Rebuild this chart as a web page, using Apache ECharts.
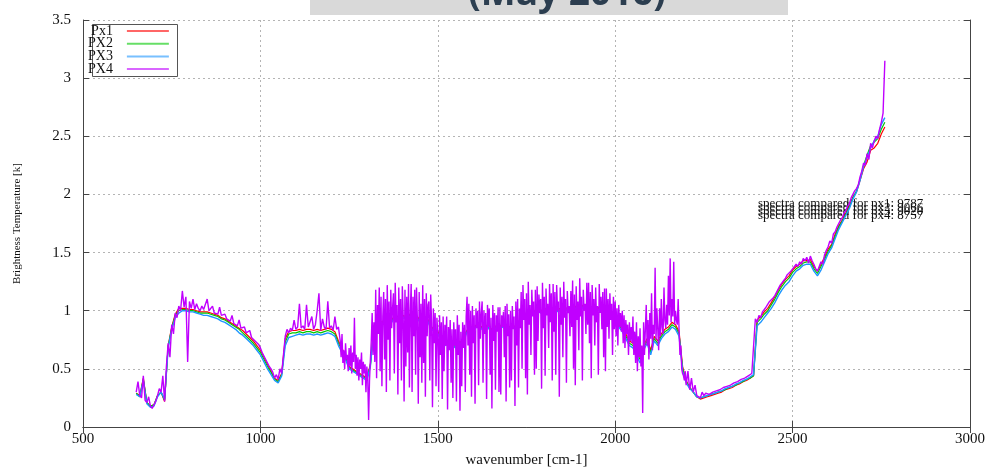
<!DOCTYPE html>
<html><head><meta charset="utf-8">
<script src="https://cdn.jsdelivr.net/npm/echarts@6/dist/echarts.min.js"></script>
<style>html,body{margin:0;padding:0;background:#fff}#c{width:988px;height:473px}</style>
</head><body><div id="c"></div>
<script>
// ---------- data ----------
const seriesNames = ['Px1', 'PX2', 'PX3', 'PX4'];
const xTickValues = [500, 1000, 1500, 2000, 2500, 3000];
const yTickValues = [0, 0.5, 1, 1.5, 2, 2.5, 3, 3.5];
const xAxisName = 'wavenumber [cm-1]';
const yAxisName = 'Brightness Temperature [k]';
const titleText = '(May 2016)';
const annotationTexts = [
  'spectra compared for px1: 9787',
  'spectra compared for px2: 9066',
  'spectra compared for px3: 9020',
  'spectra compared for px4: 8757'
];

// PX4, part 1: every 5 cm-1 from 650 to 1220 cm-1
const px4LowStart = 650, px4LowStep = 5;
const px4Low = [
0.30,0.39,0.27,0.25,0.44,0.23,0.21,0.26,0.18,0.16,
0.19,0.22,0.27,0.33,0.30,0.44,0.22,0.52,0.72,0.60,
0.88,0.80,0.98,0.94,1.04,1.00,1.17,1.03,1.12,0.56,
1.08,1.02,1.10,1.01,1.06,1.02,1.00,1.04,1.01,1.00,
1.10,1.00,0.99,1.04,0.98,0.99,0.97,1.03,0.96,0.95,
0.97,0.93,0.94,0.91,0.96,0.89,0.90,0.87,0.92,0.85,
0.84,0.86,0.81,0.80,0.83,0.77,0.76,0.74,0.73,0.71,
0.68,0.64,0.61,0.58,0.55,0.52,0.50,0.47,0.42,0.45,
0.41,0.50,0.46,0.62,0.78,0.84,0.81,0.85,0.83,0.92,
0.84,0.86,1.06,0.85,0.87,0.84,1.05,0.86,0.85,0.95,
0.84,0.88,1.00,1.15,0.83,0.93,0.86,0.84,1.08,0.85,
0.87,0.83,0.95,0.84,0.86
];
// PX4, part 2 (dense absorption region): every 2.5 cm-1 from 1225 to 2197.5 cm-1
const px4MidStart = 1225, px4MidStep = 2.5;
const px4Mid = [
0.74,0.60,0.80,0.55,0.66,0.50,0.72,0.58,0.62,0.48,0.68,0.52,0.70,0.46,0.64,0.56,0.94,0.50,0.62,0.44,
0.60,0.40,0.58,0.50,0.64,0.36,0.56,0.46,0.54,0.30,0.52,0.42,0.06,0.40,0.58,0.74,0.98,0.62,0.90,0.56,
1.18,0.42,1.05,0.80,1.20,0.48,1.12,0.35,0.95,1.16,0.58,1.10,0.30,1.22,0.75,1.08,0.40,1.18,0.85,1.02,
1.15,0.46,1.24,0.90,1.05,0.28,1.20,0.72,1.10,0.40,1.21,0.95,0.22,1.18,0.52,1.12,0.64,1.23,0.34,1.00,
1.23,0.30,1.12,0.78,1.18,0.45,1.20,0.92,0.20,1.16,0.60,1.06,0.38,1.22,0.55,1.10,0.26,1.15,0.78,1.05,
1.08,0.40,1.14,0.90,0.17,1.02,0.72,0.98,0.35,0.94,0.80,0.30,0.96,0.62,0.90,0.24,0.95,0.48,0.88,0.70,
0.95,0.15,0.86,0.66,0.92,0.38,0.84,0.25,0.90,0.70,0.84,0.22,0.96,0.62,0.88,0.14,0.82,0.35,0.90,0.68,
0.88,0.30,0.95,1.12,0.70,1.06,0.45,1.00,0.26,1.04,0.72,0.96,0.20,1.02,0.85,1.00,0.36,1.08,0.76,0.98,
1.08,0.38,1.00,0.80,0.98,0.24,1.05,0.86,1.02,0.45,0.94,0.16,1.05,0.74,0.98,0.32,0.96,0.82,1.03,0.30,
1.03,0.28,0.96,0.86,0.99,0.60,1.04,0.22,1.06,0.78,0.97,0.34,1.00,0.40,1.04,0.84,0.95,0.18,1.08,0.70,
1.10,0.34,1.02,0.85,1.16,0.50,1.22,0.92,1.10,0.42,1.15,0.28,1.25,0.88,1.05,0.62,1.18,0.95,1.08,0.45,
1.18,0.50,1.21,0.74,1.14,0.98,1.10,0.33,1.24,0.85,1.12,0.44,1.19,0.96,1.06,0.68,1.23,0.90,1.15,0.40,
1.23,0.82,1.16,0.45,1.22,1.00,1.08,0.26,1.20,0.88,1.12,0.60,1.25,0.94,1.10,0.38,1.17,0.98,1.04,0.78,
1.17,0.86,1.26,0.50,1.14,0.36,1.21,0.92,1.08,0.66,1.28,0.95,1.12,0.40,1.18,1.00,1.06,0.80,1.24,0.88,
1.24,0.72,1.16,0.42,1.22,0.96,1.10,0.70,1.20,0.90,1.04,0.45,1.23,0.98,1.12,0.84,1.16,0.60,1.19,0.48,
1.19,0.86,1.10,0.76,1.15,0.92,1.06,0.62,1.12,0.84,1.08,0.78,1.02,0.70,1.05,0.86,0.98,0.82,1.00,0.72,
0.96,0.68,0.92,0.80,0.88,0.62,0.90,0.74,0.86,0.72,0.95,0.62,0.82,0.55,0.90,0.48,0.78,0.60,0.85,0.52,
0.70,0.12,0.90,0.62,0.84,1.05,0.70,0.92,0.58,0.98,0.76,1.15,0.66,0.88,0.80,1.37,0.75,1.02,0.84,0.66,
1.02,0.78,1.10,0.86,0.80,1.20,0.92,0.85,1.05,0.88,1.30,0.96,1.45,0.90,1.10,0.95,1.42,0.88,1.00,0.92,
0.88,1.10,0.84,0.62,0.70,0.50,0.46,0.44,0.40,0.48
];
// PX4, part 3: every 5 cm-1 from 2200 to 2760 cm-1
const px4HighStart = 2200, px4HighStep = 5;
const px4High = [
0.36,0.48,0.32,0.42,0.30,0.36,0.27,0.26,0.25,0.30,
0.27,0.29,0.28,0.28,0.29,0.30,0.30,0.31,0.32,0.32,
0.33,0.34,0.34,0.35,0.36,0.36,0.37,0.38,0.39,0.39,
0.40,0.41,0.42,0.42,0.43,0.44,0.45,0.46,0.47,0.93,
0.90,0.96,0.94,0.99,1.00,1.03,1.02,1.08,1.07,1.11,
1.13,1.16,1.19,1.22,1.24,1.26,1.28,1.31,1.30,1.34,
1.36,1.35,1.40,1.38,1.42,1.40,1.45,1.43,1.46,1.41,
1.47,1.43,1.40,1.36,1.34,1.38,1.42,1.40,1.48,1.52,
1.55,1.60,1.58,1.66,1.68,1.72,1.75,1.78,1.80,1.84,
1.86,1.90,1.92,1.97,2.00,2.03,2.05,2.08,2.15,2.20,
2.27,2.25,2.35,2.30,2.44,2.40,2.46,2.50,2.48,2.56,
2.62,2.70,3.15
];

// Px1, PX2, PX3 sampled every 10 cm-1 from 650 cm-1
const pxStart = 650, pxStep = 10;
const px1 = [
0.29,0.27,0.42,0.21,0.18,0.19,0.27,0.30,0.22,0.70,
0.86,0.97,1.02,1.02,1.02,1.01,1.01,1.00,0.99,0.99,
0.99,0.98,0.97,0.96,0.94,0.93,0.91,0.89,0.87,0.85,
0.83,0.80,0.77,0.74,0.70,0.66,0.60,0.54,0.48,0.42,
0.40,0.46,0.76,0.82,0.83,0.83,0.84,0.83,0.84,0.84,
0.83,0.84,0.83,0.84,0.85,0.84,0.82,0.74,0.68,0.60,
0.52,0.50,0.48,0.46,0.44,0.42,0.54,0.87,0.92,0.90,
0.92,0.94,0.92,0.97,0.94,0.96,0.95,0.97,0.94,0.96,
0.92,0.90,0.94,0.87,0.84,0.82,0.77,0.72,0.74,0.72,
0.70,0.74,0.72,0.82,0.87,0.86,0.88,0.87,0.85,0.88,
0.84,0.87,0.86,0.88,0.87,0.86,0.88,0.86,0.92,0.97,
0.98,1.00,0.99,1.02,1.00,1.02,1.01,1.02,1.00,1.02,
1.01,1.02,1.03,1.02,1.04,1.02,1.05,1.02,1.03,1.04,
1.02,1.04,1.01,1.00,0.97,0.94,0.88,0.85,0.80,0.74,
0.72,0.66,0.60,0.70,0.76,0.66,0.78,0.74,0.80,0.84,
0.86,0.90,0.88,0.82,0.52,0.40,0.34,0.30,0.26,0.24,
0.25,0.26,0.27,0.28,0.29,0.30,0.32,0.33,0.34,0.36,
0.37,0.39,0.40,0.42,0.44,0.92,0.95,0.99,1.02,1.07,
1.12,1.18,1.23,1.27,1.30,1.35,1.38,1.40,1.43,1.43,
1.44,1.38,1.34,1.40,1.46,1.53,1.57,1.66,1.73,1.78,
1.84,1.90,1.98,2.02,2.12,2.22,2.28,2.38,2.40,2.44,
2.52,2.58
];
const px2 = [
0.29,0.26,0.41,0.21,0.18,0.19,0.27,0.30,0.23,0.69,
0.85,0.96,1.00,1.01,1.01,1.00,1.00,0.99,0.98,0.98,
0.98,0.97,0.96,0.95,0.93,0.92,0.90,0.88,0.86,0.84,
0.81,0.78,0.75,0.72,0.68,0.64,0.58,0.52,0.47,0.41,
0.39,0.45,0.73,0.80,0.81,0.81,0.82,0.81,0.82,0.82,
0.81,0.82,0.81,0.82,0.83,0.82,0.80,0.72,0.66,0.59,
0.51,0.49,0.47,0.45,0.43,0.41,0.53,0.86,0.91,0.89,
0.91,0.93,0.91,0.96,0.93,0.95,0.94,0.96,0.93,0.95,
0.91,0.89,0.93,0.86,0.83,0.81,0.76,0.71,0.73,0.71,
0.69,0.73,0.71,0.81,0.86,0.85,0.87,0.86,0.84,0.87,
0.83,0.86,0.85,0.87,0.86,0.85,0.87,0.85,0.91,0.96,
0.97,0.99,0.98,1.01,0.99,1.01,1.00,1.01,0.99,1.01,
1.00,1.01,1.02,1.01,1.03,1.01,1.04,1.01,1.02,1.03,
1.01,1.03,1.00,0.99,0.96,0.93,0.87,0.84,0.78,0.72,
0.70,0.64,0.58,0.68,0.74,0.64,0.76,0.72,0.78,0.82,
0.84,0.88,0.86,0.80,0.50,0.39,0.34,0.30,0.26,0.25,
0.26,0.27,0.28,0.29,0.30,0.31,0.32,0.34,0.35,0.36,
0.38,0.39,0.41,0.42,0.44,0.90,0.93,0.97,1.00,1.05,
1.10,1.16,1.21,1.25,1.28,1.33,1.36,1.38,1.41,1.42,
1.42,1.36,1.32,1.38,1.44,1.51,1.56,1.64,1.72,1.77,
1.83,1.89,1.97,2.03,2.13,2.25,2.34,2.42,2.45,2.48,
2.56,2.62
];
const px3 = [
0.28,0.26,0.40,0.20,0.17,0.18,0.26,0.30,0.24,0.68,
0.84,0.94,0.98,1.00,1.00,0.99,0.99,0.98,0.97,0.96,
0.96,0.95,0.94,0.93,0.91,0.90,0.88,0.86,0.84,0.81,
0.79,0.76,0.73,0.70,0.66,0.62,0.56,0.50,0.45,0.40,
0.38,0.44,0.70,0.77,0.78,0.79,0.80,0.79,0.80,0.80,
0.79,0.80,0.79,0.80,0.81,0.80,0.78,0.70,0.64,0.58,
0.50,0.48,0.46,0.44,0.42,0.40,0.52,0.85,0.90,0.88,
0.90,0.92,0.90,0.95,0.92,0.94,0.93,0.95,0.92,0.94,
0.90,0.88,0.92,0.85,0.82,0.80,0.75,0.70,0.72,0.70,
0.68,0.72,0.70,0.80,0.85,0.84,0.86,0.85,0.83,0.86,
0.82,0.85,0.84,0.86,0.85,0.84,0.86,0.84,0.90,0.95,
0.96,0.98,0.97,1.00,0.98,1.00,0.99,1.00,0.98,1.00,
0.99,1.00,1.01,1.00,1.02,1.00,1.03,1.00,1.01,1.02,
1.00,1.02,0.99,0.98,0.95,0.92,0.86,0.82,0.76,0.70,
0.68,0.62,0.55,0.66,0.72,0.62,0.74,0.70,0.76,0.80,
0.82,0.86,0.84,0.78,0.48,0.38,0.33,0.30,0.26,0.25,
0.26,0.27,0.28,0.29,0.30,0.31,0.33,0.34,0.35,0.37,
0.38,0.40,0.41,0.43,0.45,0.87,0.90,0.94,0.98,1.02,
1.07,1.13,1.18,1.22,1.25,1.30,1.34,1.36,1.39,1.40,
1.40,1.34,1.30,1.35,1.42,1.49,1.54,1.62,1.70,1.76,
1.82,1.88,1.96,2.02,2.12,2.24,2.32,2.40,2.46,2.50,
2.60,2.66
];

// ---------- styles ----------
const seriesColors = ['#ff0000', '#00c800', '#1e96ff', '#c000ff'];
const seriesWidths = [1.2, 1.2, 1.4, 1.4];
const serif = '"Liberation Serif", "DejaVu Serif", serif';

function toPairs(vals, start, step) {
  return vals.map((v, i) => [start + i * step, v]);
}
const seriesData = [
  toPairs(px1, pxStart, pxStep),
  toPairs(px2, pxStart, pxStep),
  toPairs(px3, pxStart, pxStep),
  toPairs(px4Low, px4LowStart, px4LowStep)
    .concat(toPairs(px4Mid, px4MidStart, px4MidStep))
    .concat(toPairs(px4High, px4HighStart, px4HighStep))
];

const chart = echarts.init(document.getElementById('c'), null, {renderer: 'canvas'});

const axisLineStyle = {color: '#444', width: 1};
const gridLine = {show: true, lineStyle: {color: '#b4b4b4', type: [2, 3], width: 1}};
const plainNum = v => String(v);

const option = {
  animation: false,
  backgroundColor: '#fff',
  grid: {left: 83, right: 17, top: 20, bottom: 39},
  legend: {
    data: seriesNames,
    orient: 'vertical',
    align: 'right',
    left: 88,
    top: 24,
    padding: 0,
    itemGap: -1.3,
    itemWidth: 42,
    itemHeight: 2,
    icon: 'rect',
    itemStyle: {opacity: 0.6},
    textStyle: {fontFamily: serif, fontSize: 14, color: '#111', lineHeight: 12, padding: [0, 9, 0, 0]}
  },
  xAxis: [{
    type: 'value',
    min: xTickValues[0], max: xTickValues[xTickValues.length - 1],
    interval: xTickValues[1] - xTickValues[0],
    name: xAxisName, nameLocation: 'middle', nameGap: 26,
    nameTextStyle: {fontFamily: serif, fontSize: 15, color: '#111'},
    axisLine: {show: true, lineStyle: axisLineStyle},
    axisTick: {show: true, inside: true, length: 6, lineStyle: axisLineStyle},
    axisLabel: {fontFamily: serif, fontSize: 15, color: '#111', margin: 5, formatter: plainNum},
    splitLine: gridLine
  }, {
    type: 'value', position: 'top',
    min: xTickValues[0], max: xTickValues[xTickValues.length - 1],
    interval: xTickValues[1] - xTickValues[0],
    axisLine: {show: true, lineStyle: axisLineStyle},
    axisTick: {show: true, inside: true, length: 6, lineStyle: axisLineStyle},
    axisLabel: {show: false},
    splitLine: {show: false}
  }],
  yAxis: [{
    type: 'value',
    min: yTickValues[0], max: yTickValues[yTickValues.length - 1],
    interval: yTickValues[1] - yTickValues[0],
    name: yAxisName, nameLocation: 'middle', nameGap: 60,
    nameTextStyle: {fontFamily: serif, fontSize: 11, color: '#111'},
    axisLine: {show: true, lineStyle: axisLineStyle},
    axisTick: {show: true, inside: true, length: 6, lineStyle: axisLineStyle},
    axisLabel: {fontFamily: serif, fontSize: 15, color: '#111', margin: 12, formatter: plainNum},
    splitLine: gridLine
  }, {
    type: 'value', position: 'right',
    min: yTickValues[0], max: yTickValues[yTickValues.length - 1],
    interval: yTickValues[1] - yTickValues[0],
    axisLine: {show: true, lineStyle: axisLineStyle},
    axisTick: {show: true, inside: true, length: 6, lineStyle: axisLineStyle},
    axisLabel: {show: false},
    splitLine: {show: false}
  }],
  series: seriesNames.map((name, i) => ({
    name: name,
    type: 'line',
    data: seriesData[i],
    showSymbol: false,
    symbol: 'none',
    sampling: false,
    color: seriesColors[i],
    lineStyle: {width: seriesWidths[i], color: seriesColors[i]},
    z: 2 + i,
    silent: true
  })),
  graphic: [
    {type: 'rect', shape: {x: 310, y: 0, width: 478, height: 15}, style: {fill: '#d9d9d9'}, z: 0},
    {type: 'text', x: 567, y: -6, z: 1,
     style: {text: titleText, font: 'bold 37px "Open Sans", sans-serif', fill: '#2c3e50', align: 'center', verticalAlign: 'middle'}},
    {type: 'rect', shape: {x: 92.5, y: 24.5, width: 85, height: 52}, style: {fill: 'none', stroke: '#555', lineWidth: 1}, z: 1}
  ].concat(annotationTexts.map((t, i) => ({
    type: 'text', x: 758, y: 204 + i * 3.8, z: 1,
    style: {text: t, font: '13px ' + serif, fill: '#111', align: 'left', verticalAlign: 'middle'}
  })))
};
chart.setOption(option);
</script>
</body></html>
